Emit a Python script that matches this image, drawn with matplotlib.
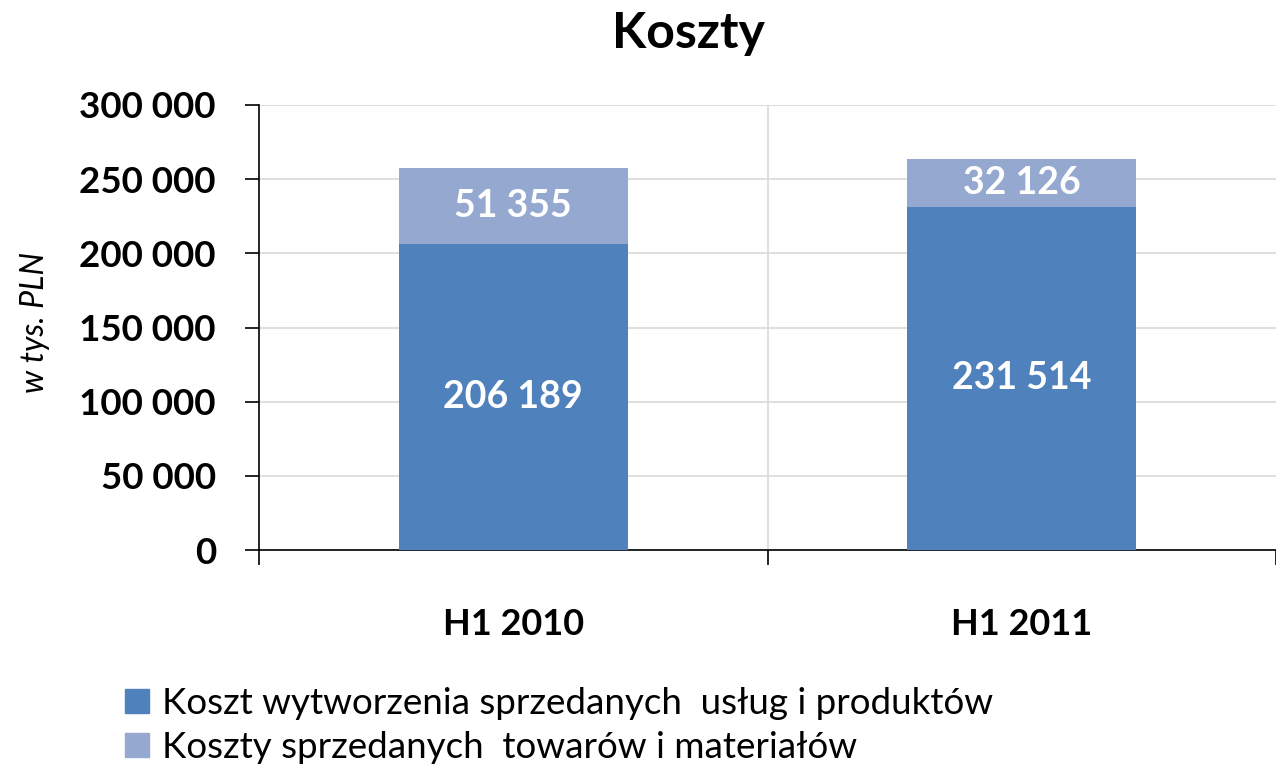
import numpy as np
import matplotlib.pyplot as plt
from matplotlib.patches import Patch
from matplotlib.ticker import FuncFormatter

# Data
periods = ["H1 2010", "H1 2011"]
koszt_wytw = [206189, 231514]      # Koszt wytworzenia sprzedanych usług i produktów
koszt_tow = [51355, 32126]         # Koszty sprzedanych towarów i materiałów
yticks = np.arange(0, 300001, 50000)

c_dark = "#4F81BD"
c_light = "#95A8D0"
font = "Lato"

def fmt(v):
    return f"{int(v):,}".replace(",", " ")

fig = plt.figure(figsize=(12.76, 7.72), dpi=100)
ax = fig.add_axes([259 / 1276, 1 - 550 / 772, 1 - 259 / 1276, 445 / 772])

x = np.arange(len(periods))
b1 = ax.bar(x, koszt_wytw, width=0.45, color=c_dark, zorder=3)
b2 = ax.bar(x, koszt_tow, width=0.45, bottom=koszt_wytw, color=c_light, zorder=3)

# Labels inside the segments
for i in range(len(periods)):
    ax.text(x[i], koszt_wytw[i] / 2, fmt(koszt_wytw[i]), ha="center", va="center",
            color="white", fontsize=27, fontweight="bold", family=font, zorder=4)
    ax.text(x[i], koszt_wytw[i] + koszt_tow[i] / 2, fmt(koszt_tow[i]), ha="center",
            va="center", color="white", fontsize=27, fontweight="bold", family=font, zorder=4)

ax.set_xlim(-0.5, 1.5)
ax.set_ylim(0, 300000)
ax.set_yticks(yticks)
ax.yaxis.set_major_formatter(FuncFormatter(lambda v, p: fmt(v)))

# Category boundaries as major ticks, names on minor ticks
ax.set_xticks([-0.5, 0.5, 1.5])
ax.set_xticklabels([])
ax.set_xticks(x, minor=True)
ax.set_xticklabels(periods, minor=True)
ax.tick_params(axis="x", which="major", length=11, width=1.2, direction="out")
ax.tick_params(axis="x", which="minor", length=0, pad=42, labelsize=26)
ax.tick_params(axis="y", length=10, width=1.2, pad=21, labelsize=26.5)
for lab in ax.get_xticklabels(minor=True) + ax.get_yticklabels():
    lab.set_fontweight("bold")
    lab.set_fontfamily(font)

ax.grid(axis="y", color="#D9D9D9", linewidth=1.2, zorder=0)
ax.axvline(0.5, color="#D9D9D9", linewidth=1.2, zorder=0)

for s in ["top", "right"]:
    ax.spines[s].set_visible(False)
ax.spines["left"].set_linewidth(1.2)
ax.spines["bottom"].set_linewidth(1.2)

# Y-axis label and title
fig.text(35 / 1276, 1 - 322 / 772, "w tys. PLN", rotation=90, ha="center", va="center",
         fontsize=23, fontstyle="italic", family=font)
fig.text(688 / 1276, 1 - 33 / 772, "Koszty", ha="center", va="center",
         fontsize=36, fontweight="bold", family=font)

handles = [Patch(color=c_dark), Patch(color=c_light)]
labels = ["Koszt wytworzenia sprzedanych  usług i produktów",
          "Koszty sprzedanych  towarów i materiałów"]
fig.legend(handles, labels, loc="upper left", bbox_to_anchor=(110 / 1276, 1 - 672 / 772),
           frameon=False, prop={"family": font, "size": 26.5}, handlelength=0.65,
           handleheight=0.65, handletextpad=0.35, labelspacing=0.3, borderaxespad=0)

fig.savefig("out.png", dpi=100)
